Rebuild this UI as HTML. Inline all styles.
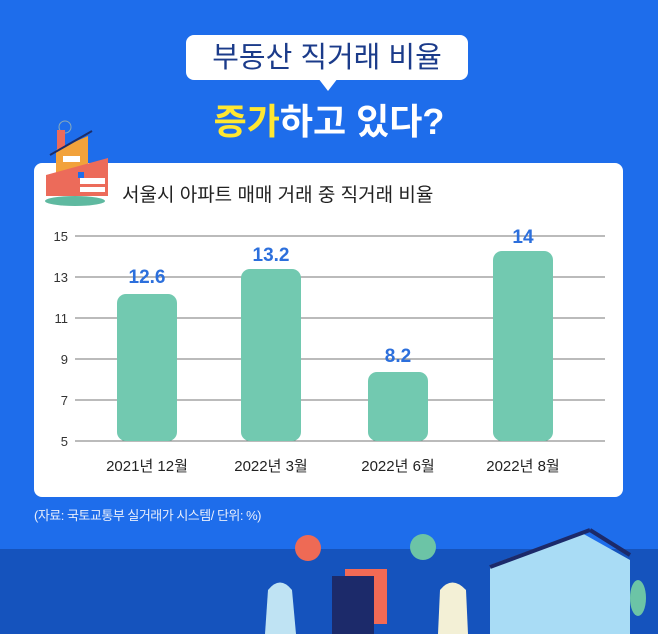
<!DOCTYPE html><html><head><meta charset="utf-8"><style>
body{margin:0;width:658px;height:634px;overflow:hidden;background:#1e6deb;font-family:"Liberation Sans","Noto Sans CJK KR",sans-serif;position:relative}
.a{position:absolute}
</style></head><body>
<div class="a" style="left:0;top:549px;width:658px;height:85px;background:#1553bd"></div>
<div class="a" style="left:186px;top:35px;width:282px;height:45px;background:#fff;border-radius:8px;"></div>
<div class="a" style="left:318px;top:78px;width:0;height:0;border-left:10px solid transparent;border-right:10px solid transparent;border-top:13px solid #fff"></div>
<div class="a" style="left:186px;top:38px;width:282px;text-align:center;font-size:29px;color:#1b3b8a;line-height:40px">부동산 직거래 비율</div>
<div class="a" style="left:150px;top:98px;width:358px;text-align:center;font-size:36px;font-weight:bold;color:#fff;line-height:48px"><span style="color:#ffe731">증가</span>하고 있다?</div>
<div class="a" style="left:34px;top:163px;width:589px;height:334px;background:#fff;border-radius:8px"></div>
<svg class="a" style="left:0;top:0" width="658" height="634">
<circle cx="65" cy="127" r="6" fill="none" stroke="#8ab" stroke-width="1"/>
<rect x="57" y="130" width="8" height="22" fill="#ec6b5a"/>
<polygon points="56,150 88,136 88,185 56,185" fill="#f2a23b"/>
<line x1="50" y1="155" x2="92" y2="131" stroke="#1b2d6a" stroke-width="2"/>
<polygon points="46,175 108,158 108,196 46,196" fill="#ec6b5a"/>
<rect x="63" y="156" width="17" height="6" fill="#fff"/>
<rect x="80" y="178" width="25" height="6" fill="#fff"/><rect x="80" y="187" width="25" height="5" fill="#fff"/>
<rect x="78" y="172" width="6" height="6" fill="#1e6deb"/>
<ellipse cx="75" cy="201" rx="30" ry="5" fill="#5fb9a0"/>
<g stroke="#777" stroke-width="1">
<line x1="75" y1="236" x2="605" y2="236"/><line x1="75" y1="277" x2="605" y2="277"/><line x1="75" y1="318" x2="605" y2="318"/><line x1="75" y1="359" x2="605" y2="359"/><line x1="75" y1="400" x2="605" y2="400"/><line x1="75" y1="441" x2="605" y2="441"/>
</g>
<g fill="#333" font-size="13" font-family="Liberation Sans,sans-serif" text-anchor="end">
<text x="68" y="241">15</text><text x="68" y="282">13</text><text x="68" y="323">11</text><text x="68" y="364">9</text><text x="68" y="405">7</text><text x="68" y="446">5</text></g>
<g fill="#72c9b0">
<rect x="117" y="294" width="60" height="147" rx="9"/><rect x="241" y="269" width="60" height="172" rx="9"/><rect x="368" y="372" width="60" height="69" rx="9"/><rect x="493" y="251" width="60" height="190" rx="9"/></g>
<g fill="#2c6fdc" font-size="19" font-weight="bold" text-anchor="middle" font-family="Liberation Sans,sans-serif">
<text x="147" y="283">12.6</text><text x="271" y="261">13.2</text><text x="398" y="362">8.2</text><text x="523" y="243">14</text></g>
<g fill="#222" font-size="15" text-anchor="middle" font-family="Liberation Sans,Noto Sans CJK KR,sans-serif">
<text x="147" y="471">2021년 12월</text><text x="271" y="471">2022년 3월</text><text x="398" y="471">2022년 6월</text><text x="523" y="471">2022년 8월</text></g>
<circle cx="308" cy="548" r="13" fill="#ee6a55"/><circle cx="423" cy="547" r="13" fill="#6cc4a6"/>
<rect x="345" y="569" width="42" height="55" fill="#f26a55"/><rect x="332" y="576" width="42" height="58" fill="#1c2a6a"/>
<polygon points="490,565 580,532 630,560 630,634 490,634" fill="#a9dcf5"/>
<line x1="490" y1="567" x2="590" y2="530" stroke="#1c2a6a" stroke-width="4"/><line x1="590" y1="530" x2="630" y2="555" stroke="#1c2a6a" stroke-width="4"/>
<ellipse cx="638" cy="598" rx="8" ry="18" fill="#6cc4a6"/>
<path d="M265 634 L268 590 Q280 575 292 590 L296 634Z" fill="#bfe3f3"/>
<path d="M438 634 L440 590 Q452 575 466 590 L468 634Z" fill="#f3f0d6"/>
</svg>
<div class="a" style="left:122px;top:180px;font-size:19px;color:#222">서울시 아파트 매매 거래 중 직거래 비율</div>
<div class="a" style="left:34px;top:505px;font-size:13px;color:#e8eefc;letter-spacing:-0.5px">(자료: 국토교통부 실거래가 시스템/ 단위: %)</div>
</body></html>
